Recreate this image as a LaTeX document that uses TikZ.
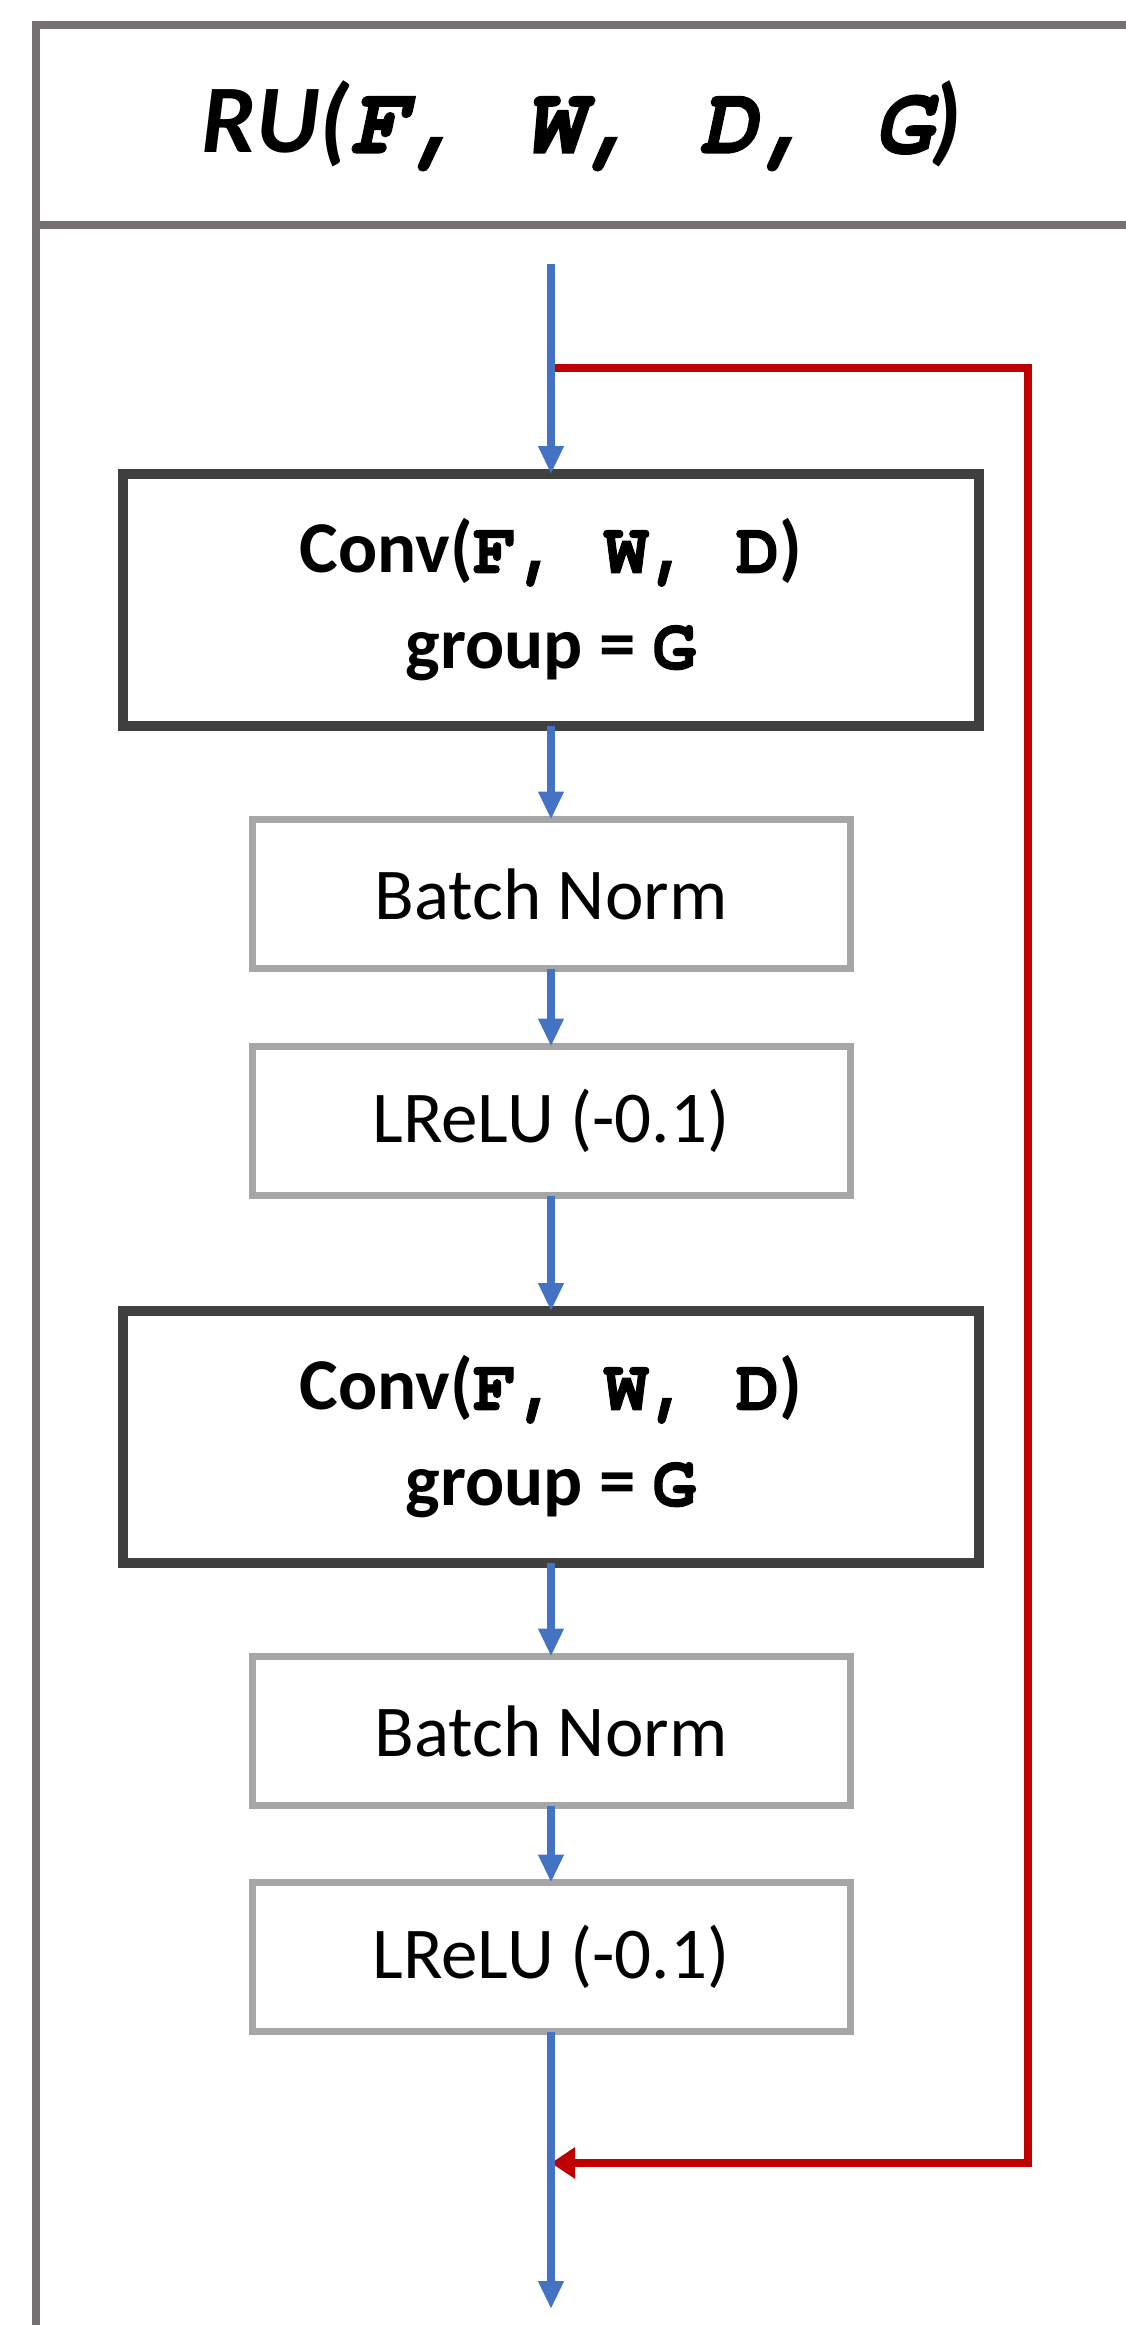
\documentclass[tikz,border=0pt]{standalone}
\usepackage{fontspec}
\setmainfont{Carlito}
\newfontfamily\codefont[FakeBold=1.3]{TeX Gyre Cursor}
\usetikzlibrary{arrows.meta}
\definecolor{flowblue}{HTML}{4472C4}
\definecolor{skipred}{HTML}{C00000}
\definecolor{framegray}{HTML}{767171}
\definecolor{convgray}{HTML}{404040}
\definecolor{lightgray}{HTML}{A6A6A6}
\tikzset{
  framebox/.style={draw=framegray, line width=8pt},
  convbox/.style={draw=convgray, line width=10pt, minimum width=856pt, minimum height=252pt, inner sep=0pt, outer sep=0pt, align=center, font=\fontsize{73}{96}\selectfont\bfseries},
  opbox/.style={draw=lightgray, line width=7pt, minimum width=598pt, minimum height=149pt, inner sep=0pt, outer sep=0pt, align=center, font=\fontsize{73}{90}\selectfont},
  flow/.style={draw=flowblue, line width=8pt, -{Triangle[length=28pt,width=24pt]}},
  skip/.style={draw=skipred, line width=8pt, -{Triangle[length=24pt,width=30pt]}}
}
\begin{document}
\begin{tikzpicture}[x=1pt,y=-1pt]
\useasboundingbox (0,0) rectangle (1126,2325);
\clip (0,0) rectangle (1126,2325);
\fill[white] (0,0) rectangle (1126,2325);
% frame
\draw[framebox] (1140,25.5) -- (36,25.5) -- (36,2340);
\draw[framebox] (36,225) -- (1140,225);
\node (title) at (582,126) {\fontsize{97}{97}\selectfont\bfseries\itshape RU({\codefont F, W, D, G})};
% blocks
\node[convbox] (conv1) at (551,600) {Conv({\codefont F, W, D})\\group = {\codefont G}};
\node[opbox] (bn1) at (551,894) {Batch Norm};
\node[opbox] (act1) at (551,1121) {LReLU (-0.1)};
\node[convbox] (conv2) at (551,1437) {Conv({\codefont F, W, D})\\group = {\codefont G}};
\node[opbox] (bn2) at (551,1731) {Batch Norm};
\node[opbox] (act2) at (551,1957) {LReLU (-0.1)};
% coordinates
\coordinate (in) at (551,264);
\coordinate (split) at (551,368);
\coordinate (join) at (551,2163);
\coordinate (out) at (551,2309);
% skip connection
\draw[skip] (split) -- (1027.5,368) -- (1027.5,2163) -- (join);
% main flow
\draw[flow] (in) -- (conv1.north);
\draw[flow] (conv1.south) -- (bn1.north);
\draw[flow] (bn1.south) -- (act1.north);
\draw[flow] (act1.south) -- (conv2.north);
\draw[flow] (conv2.south) -- (bn2.north);
\draw[flow] (bn2.south) -- (act2.north);
\draw[flow] (act2.south) -- (out);
\end{tikzpicture}
\end{document}
